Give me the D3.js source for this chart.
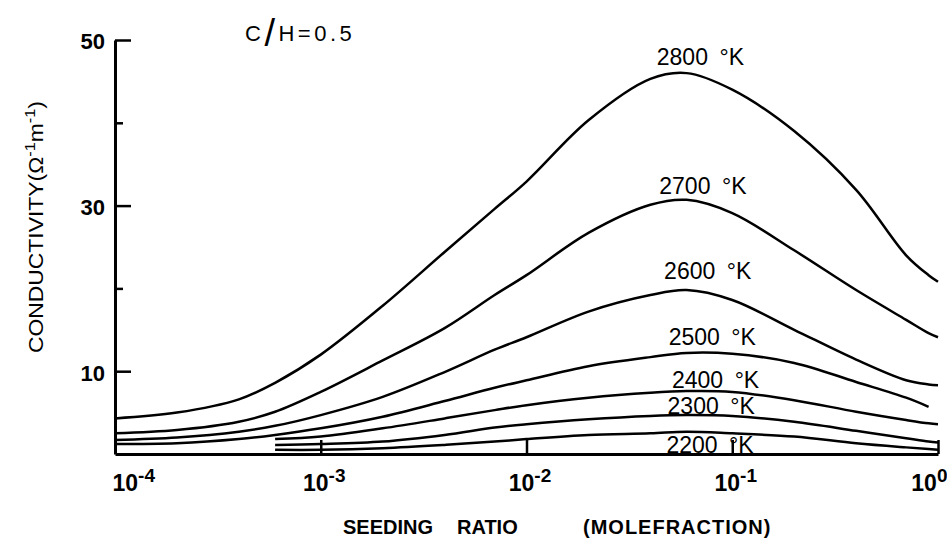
<!DOCTYPE html>
<html>
<head>
<meta charset="utf-8">
<script src="https://cdn.jsdelivr.net/npm/d3@7"></script>
<style>
    body { margin: 0; background: #fff; }
    svg { display: block; }
    text { font-family: "Liberation Sans", Arial, sans-serif; fill: #000; }
</style>
</head>
<body>
<div id="chart"></div>
<script>
'use strict';

// seeding ratio (mole fraction) grid, shared by all curves
var ratios = [1e-4, 2e-4, 4e-4, 6e-4, 1e-3, 2e-3, 4e-3, 7e-3, 1e-2, 2e-2, 4e-2, 6e-2, 1e-1, 2e-1, 4e-1, 7e-1, 9e-1, 1];

var temps = [2800, 2700, 2600, 2500, 2400, 2300, 2200];

// conductivity (ohm^-1 m^-1), null = curve not drawn there
var s2800 = [4.3, 5.0, 6.6, 8.6, 12.0, 17.9, 24.4, 29.6, 32.9, 40.3, 45.3, 46.0, 44.0, 39.0, 31.9, 24.0, 21.6, 20.8];
var s2700 = [2.5, 2.9, 3.9, 5.1, 7.5, 11.3, 15.2, 19.2, 21.6, 26.7, 30.1, 30.7, 29.1, 24.6, 19.8, 16.2, 14.6, 14.1];
var s2600 = [1.7, 2.0, 2.7, 3.4, 4.7, 6.9, 9.9, 12.6, 14.1, 17.2, 19.2, 19.8, 18.6, 15.0, 11.4, 8.9, 8.4, 8.3];
var s2500 = [1.2, 1.3, 1.8, 2.3, 3.1, 4.5, 6.4, 8.0, 8.9, 10.6, 11.7, 12.2, 12.1, 11.0, 8.7, 6.8, 5.7, null];
var s2400 = [null, null, null, 1.8, 2.1, 3.1, 4.3, 5.3, 5.9, 6.8, 7.4, 7.6, 7.5, 6.5, 5.1, 4.1, 3.7, 3.6];
var s2300 = [null, null, null, 1.1, 1.2, 1.5, 2.3, 3.2, 3.6, 4.2, 4.6, 4.7, 4.6, 3.9, 2.8, 1.9, 1.5, 1.4];
var s2200 = [null, null, null, 0.5, 0.5, 0.7, 1.1, 1.5, 1.8, 2.3, 2.5, 2.7, 2.5, 2.1, 1.3, 0.8, 0.6, 0.5];

var series = [s2800, s2700, s2600, s2500, s2400, s2300, s2200];

// curve label anchors (ratio at label centre, conductivity at baseline)
var labelRatio = [0.07, 0.072, 0.076, 0.08, 0.083, 0.079, 0.078];
var labelValue = [47.0, 31.4, 21.1, 13.2, 8.0, 4.8, 0.1];

var xTicks = [1e-4, 1e-3, 1e-2, 1e-1, 1];
var xExponents = ['-4', '-3', '-2', '-1', '0'];
var yTicks = [10, 20, 30, 40, 50];
var yLabelled = [10, 30, 50];

var width = 947;
var height = 538;

var svg = d3.select('#chart').append('svg')
    .attr('width', width)
    .attr('height', height);

var xScale = d3.scaleLog()
    .domain([1e-4, 1])
    .range([115, 938]);

var yScale = d3.scaleLinear()
    .domain([0, 50])
    .range([454, 40]);

// curves
var line = d3.line()
    .defined(function(d) { return d[1] !== null; })
    .x(function(d) { return xScale(d[0]); })
    .y(function(d) { return yScale(d[1]); })
    .curve(d3.curveCatmullRom.alpha(0.5));

svg.append('g')
    .selectAll('path')
    .data(series)
    .enter()
    .append('path')
    .attr('d', function(s) {
        return line(ratios.map(function(r, i) { return [r, s[i]]; }));
    })
    .attr('fill', 'none')
    .attr('stroke', '#000')
    .attr('stroke-width', 2.5)
    .attr('stroke-linejoin', 'round');

// x axis, ticks pointing up into the plot
var xAxis = d3.axisBottom(xScale)
    .tickValues(xTicks)
    .tickSizeInner(-14)
    .tickSizeOuter(0)
    .tickPadding(0);

var xAxisEle = svg.append('g')
    .attr('transform', 'translate(0,' + yScale(0) + ')')
    .call(xAxis);
xAxisEle.select('.domain').attr('stroke-width', 3);
xAxisEle.selectAll('.tick line').attr('stroke-width', 2.5);
xAxisEle.selectAll('.tick text')
    .attr('y', 37)
    .attr('dy', 0)
    .style('font-size', '23px')
    .style('font-weight', 'bold')
    .attr('text-anchor', function(d, i) {
        if (i === 0) return 'start';
        if (i === xTicks.length - 1) return 'end';
        return 'middle';
    })
    .attr('dx', function(d, i) {
        if (i === 0) return -3;
        if (i === xTicks.length - 1) return 9;
        return 3;
    })
    .each(function(d, i) {
        var t = d3.select(this).text('10');
        t.append('tspan')
            .attr('dy', -9)
            .style('font-size', '19px')
            .text(xExponents[i]);
    });

// y axis, ticks pointing right
var yAxis = d3.axisLeft(yScale)
    .tickValues(yTicks)
    .tickSizeInner(-16)
    .tickSizeOuter(0)
    .tickPadding(10)
    .tickFormat(function(d) { return yLabelled.indexOf(d) >= 0 ? d : ''; });

var yAxisEle = svg.append('g')
    .attr('transform', 'translate(' + xScale(1e-4) + ',0)')
    .call(yAxis);
yAxisEle.select('.domain').attr('stroke-width', 3);
yAxisEle.selectAll('.tick line')
    .attr('stroke-width', 2.5)
    .attr('x2', function(d) { return yLabelled.indexOf(d) >= 0 ? 16 : 8; });
yAxisEle.selectAll('.tick text')
    .attr('dy', '0.4em')
    .style('font-size', '22px')
    .style('font-weight', 'bold');

// curve labels
svg.append('g')
    .selectAll('text')
    .data(temps)
    .enter()
    .append('text')
    .attr('x', function(d, i) { return xScale(labelRatio[i]); })
    .attr('y', function(d, i) { return yScale(labelValue[i]); })
    .attr('text-anchor', 'middle')
    .style('font-size', '23px')
    .text(function(d) { return d + '\u2002\u00b0K'; });

// title
var title = svg.append('text')
    .attr('x', 245)
    .attr('y', 41)
    .style('font-size', '22px')
    .style('letter-spacing', '3.5px');
title.append('tspan').text('C');
title.append('tspan').attr('dy', 5).style('font-size', '38px').text('/');
title.append('tspan').attr('dy', -5).text('H=0.5');

// axis titles
var yTitle = svg.append('text')
    .attr('transform', 'translate(43,353) rotate(-90)')
    .attr('textLength', 252)
    .attr('lengthAdjust', 'spacingAndGlyphs')
    .style('font-size', '21px');
yTitle.append('tspan').text('CONDUCTIVITY(\u03a9');
yTitle.append('tspan').attr('dy', -8).style('font-size', '15px').text('-1');
yTitle.append('tspan').attr('dy', 8).text('m');
yTitle.append('tspan').attr('dy', -8).style('font-size', '15px').text('-1');
yTitle.append('tspan').attr('dy', 8).text(')');

svg.append('text')
    .attr('x', 343)
    .attr('y', 534)
    .style('font-size', '20px')
    .style('font-weight', 'bold')
    .text('SEEDING');
svg.append('text')
    .attr('x', 457)
    .attr('y', 534)
    .style('font-size', '20px')
    .style('font-weight', 'bold')
    .text('RATIO');
svg.append('text')
    .attr('x', 583)
    .attr('y', 534)
    .style('font-size', '20px')
    .style('font-weight', 'bold')
    .style('letter-spacing', '1px')
    .text('(MOLEFRACTION)');
</script>
</body>
</html>
